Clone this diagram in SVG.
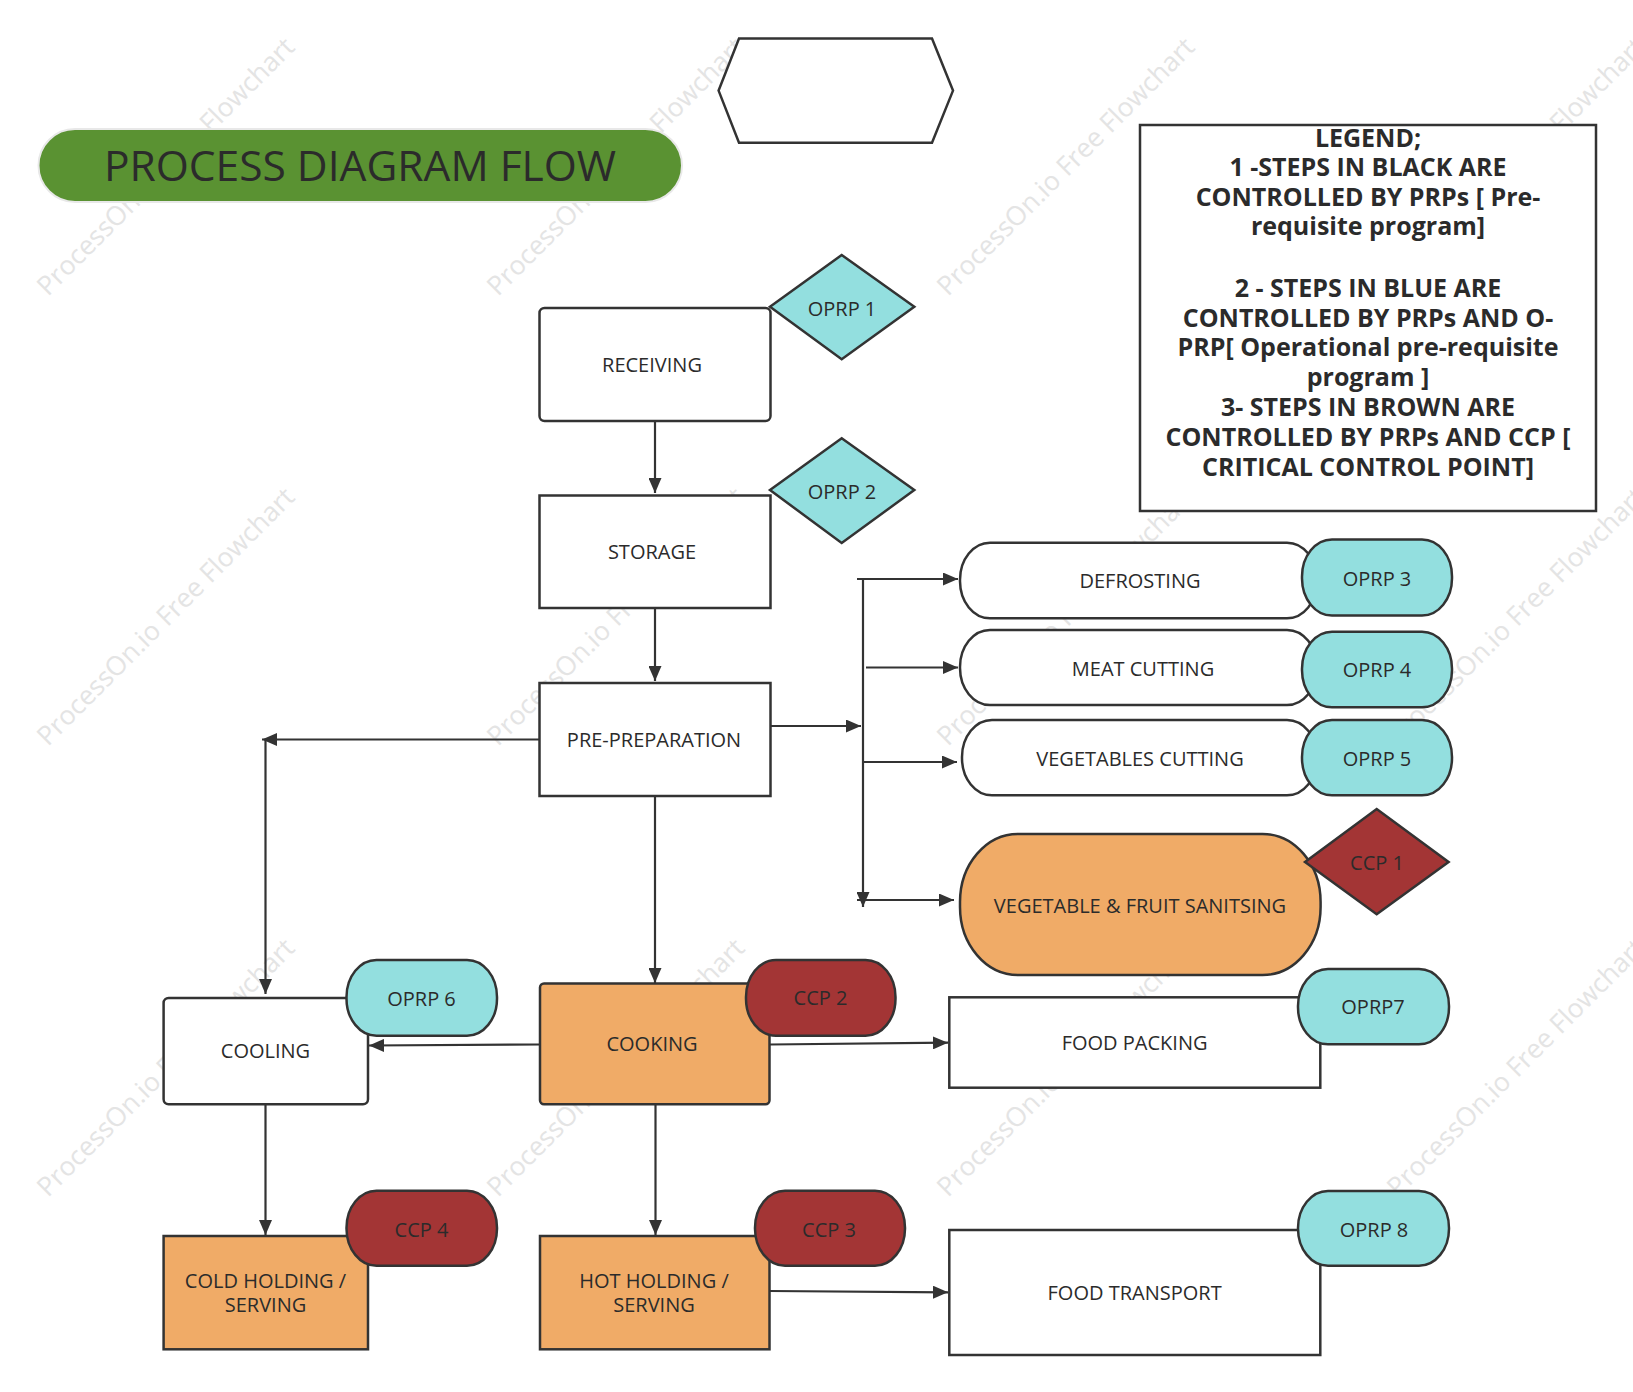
<svg xmlns="http://www.w3.org/2000/svg" width="1633" height="1392" viewBox="0 0 1633 1392">
<defs>
<marker id="arr" markerUnits="userSpaceOnUse" markerWidth="16" markerHeight="13" refX="15" refY="6.5" orient="auto"><path d="M0,0 L15,6.5 L0,13 z" fill="#333"/></marker>
<style>
.t{font-family:"Open Sans","Noto Sans","Liberation Sans",sans-serif;font-size:20px;fill:#2b2b2b;text-anchor:middle}
.b{stroke:#333;stroke-width:2.5}
.w{fill:#fff}
.c{fill:#93dfdf}
.r{fill:#a33535}
.o{fill:#f0ab67}
.ln{stroke:#333;stroke-width:2.2;fill:none}
.wm{font-family:"Open Sans","Noto Sans",sans-serif;font-size:26.5px;fill:#e4e4e4}
.lg{font-family:"Open Sans","Noto Sans","Liberation Sans",sans-serif;font-size:25px;font-weight:bold;fill:#2b2b2b;text-anchor:middle}
</style>
</defs>
<rect width="1633" height="1392" fill="#fff"/>
<g id="watermarks">
<text class="wm" transform="translate(48,297) rotate(-45)">ProcessOn.io Free Flowchart</text>
<text class="wm" transform="translate(498,297) rotate(-45)">ProcessOn.io Free Flowchart</text>
<text class="wm" transform="translate(948,297) rotate(-45)">ProcessOn.io Free Flowchart</text>
<text class="wm" transform="translate(1398,297) rotate(-45)">ProcessOn.io Free Flowchart</text>
<text class="wm" transform="translate(48,747) rotate(-45)">ProcessOn.io Free Flowchart</text>
<text class="wm" transform="translate(498,747) rotate(-45)">ProcessOn.io Free Flowchart</text>
<text class="wm" transform="translate(948,747) rotate(-45)">ProcessOn.io Free Flowchart</text>
<text class="wm" transform="translate(1398,747) rotate(-45)">ProcessOn.io Free Flowchart</text>
<text class="wm" transform="translate(48,1198) rotate(-45)">ProcessOn.io Free Flowchart</text>
<text class="wm" transform="translate(498,1198) rotate(-45)">ProcessOn.io Free Flowchart</text>
<text class="wm" transform="translate(948,1198) rotate(-45)">ProcessOn.io Free Flowchart</text>
<text class="wm" transform="translate(1398,1198) rotate(-45)">ProcessOn.io Free Flowchart</text>
</g>
<g id="title">
<rect x="38.5" y="129" width="643.5" height="73" rx="36.5" fill="#5a9232" stroke="#e8e8e8" stroke-width="2"/>
<text class="t" x="360" y="181" style="font-size:42.5px">PROCESS DIAGRAM FLOW</text>
</g>
<g id="hexagon">
<polygon class="b" fill="#fff" points="739,38.5 932,38.5 953,90.6 932,142.7 739,142.7 718.6,90.6"/>
</g>
<g id="legend">
<rect class="b" fill="#fff" x="1140" y="125" width="456" height="386"/>
<text class="lg" x="1368" y="147">LEGEND;</text>
<text class="lg" x="1368" y="176">1 -STEPS IN BLACK ARE</text>
<text class="lg" x="1368" y="206">CONTROLLED BY PRPs [ Pre-</text>
<text class="lg" x="1368" y="235">requisite program]</text>
<text class="lg" x="1368" y="297">2 - STEPS IN BLUE ARE</text>
<text class="lg" x="1368" y="327">CONTROLLED BY PRPs AND O-</text>
<text class="lg" x="1368" y="356">PRP[ Operational pre-requisite</text>
<text class="lg" x="1368" y="386">program ]</text>
<text class="lg" x="1368" y="416">3- STEPS IN BROWN ARE</text>
<text class="lg" x="1368" y="446">CONTROLLED BY PRPs AND CCP [</text>
<text class="lg" x="1368" y="476">CRITICAL CONTROL POINT]</text>
</g>
<g id="connectors">
<line class="ln" x1="655" y1="421" x2="655" y2="493" marker-end="url(#arr)"/>
<line class="ln" x1="655" y1="608" x2="655" y2="681" marker-end="url(#arr)"/>
<line class="ln" x1="770" y1="726" x2="861" y2="726" marker-end="url(#arr)"/>
<line class="ln" x1="863" y1="579" x2="863" y2="907" marker-end="url(#arr)"/>
<line class="ln" x1="857" y1="579" x2="958" y2="579" marker-end="url(#arr)"/>
<line class="ln" x1="866" y1="667.5" x2="958" y2="667.5" marker-end="url(#arr)"/>
<line class="ln" x1="863" y1="762" x2="957" y2="762" marker-end="url(#arr)"/>
<line class="ln" x1="857" y1="900" x2="954" y2="900" marker-end="url(#arr)"/>
<line class="ln" x1="539" y1="739.5" x2="262" y2="739.5" marker-end="url(#arr)"/>
<line class="ln" x1="265.5" y1="739.5" x2="265.5" y2="994" marker-end="url(#arr)"/>
<line class="ln" x1="655" y1="796" x2="655" y2="983" marker-end="url(#arr)"/>
<line class="ln" x1="540" y1="1044.5" x2="369" y2="1045.5" marker-end="url(#arr)"/>
<line class="ln" x1="770" y1="1044.5" x2="948" y2="1042.7" marker-end="url(#arr)"/>
<line class="ln" x1="265.5" y1="1104.5" x2="265.5" y2="1235" marker-end="url(#arr)"/>
<line class="ln" x1="655.5" y1="1104.5" x2="655.5" y2="1235" marker-end="url(#arr)"/>
<line class="ln" x1="770" y1="1291" x2="948" y2="1292.3" marker-end="url(#arr)"/>
</g>
<g id="receiving">
<rect class="b w" x="539.5" y="308" width="231" height="113" rx="5"/>
<text class="t" x="652" y="372">RECEIVING</text>
</g>
<g id="oprp1">
<polygon class="b c" points="770,306.7 841.7,255 914.3,306.7 841.7,359.3"/>
<text class="t" x="842" y="316">OPRP 1</text>
</g>
<g id="storage">
<rect class="b w" x="539.5" y="495.5" width="231" height="112.5"/>
<text class="t" x="652" y="559">STORAGE</text>
</g>
<g id="oprp2">
<polygon class="b c" points="770,490 841.7,438.3 914.3,490 841.7,543"/>
<text class="t" x="842" y="499">OPRP 2</text>
</g>
<g id="prepreparation">
<rect class="b w" x="539.5" y="683" width="231" height="113"/>
<text class="t" x="654" y="747">PRE-PREPARATION</text>
</g>
<g id="defrosting">
<rect class="b w" x="960" y="542.7" width="357" height="75.6" rx="30" ry="37"/>
<text class="t" x="1140" y="588">DEFROSTING</text>
</g>
<g id="oprp3">
<rect class="b c" x="1302" y="539.5" width="150" height="76" rx="30" ry="37"/>
<text class="t" x="1377" y="586">OPRP 3</text>
</g>
<g id="meatcutting">
<rect class="b w" x="960" y="630" width="357" height="75" rx="30" ry="37"/>
<text class="t" x="1143" y="676">MEAT CUTTING</text>
</g>
<g id="oprp4">
<rect class="b c" x="1302" y="631.7" width="150" height="75.6" rx="30" ry="37"/>
<text class="t" x="1377" y="677">OPRP 4</text>
</g>
<g id="vegcutting">
<rect class="b w" x="962" y="720" width="355" height="75.3" rx="30" ry="37"/>
<text class="t" x="1140" y="766">VEGETABLES CUTTING</text>
</g>
<g id="oprp5">
<rect class="b c" x="1302" y="720" width="150" height="75.3" rx="30" ry="37"/>
<text class="t" x="1377" y="766">OPRP 5</text>
</g>
<g id="sanitising">
<rect class="b o" x="960" y="834" width="360.6" height="141" rx="58" ry="68"/>
<text class="t" x="1140" y="913">VEGETABLE &amp; FRUIT SANITSING</text>
</g>
<g id="ccp1">
<polygon class="b r" points="1305,862 1376.7,809 1448.6,862 1376.7,914.3"/>
<text class="t" x="1377" y="870">CCP 1</text>
</g>
<g id="cooling">
<rect class="b w" x="163.6" y="998" width="204.4" height="106.3" rx="5"/>
<text class="t" x="265.5" y="1058">COOLING</text>
</g>
<g id="oprp6">
<rect class="b c" x="346.5" y="960" width="150.5" height="75.7" rx="30" ry="37"/>
<text class="t" x="421.5" y="1006">OPRP 6</text>
</g>
<g id="cooking">
<rect class="b o" x="540" y="983.5" width="229.5" height="120.8" rx="4"/>
<text class="t" x="652" y="1051">COOKING</text>
</g>
<g id="ccp2">
<rect class="b r" x="746" y="960" width="149.5" height="75.7" rx="30" ry="37"/>
<text class="t" x="820.5" y="1005">CCP 2</text>
</g>
<g id="foodpacking">
<rect class="b w" x="949.3" y="997.3" width="371" height="90.4"/>
<text class="t" x="1134.6" y="1050">FOOD PACKING</text>
</g>
<g id="oprp7">
<rect class="b c" x="1298" y="969" width="151" height="75.3" rx="30" ry="37"/>
<text class="t" x="1373" y="1014">OPRP7</text>
</g>
<g id="coldholding">
<rect class="b o" x="163.6" y="1236" width="204.4" height="113.3"/>
<text class="t" x="265.5" y="1288">COLD HOLDING /</text>
<text class="t" x="265.5" y="1312">SERVING</text>
</g>
<g id="ccp4">
<rect class="b r" x="346.5" y="1190.7" width="150.5" height="75" rx="30" ry="37"/>
<text class="t" x="421.5" y="1237">CCP 4</text>
</g>
<g id="hotholding">
<rect class="b o" x="540" y="1236" width="229.5" height="113.3"/>
<text class="t" x="654" y="1288">HOT HOLDING /</text>
<text class="t" x="654" y="1312">SERVING</text>
</g>
<g id="ccp3">
<rect class="b r" x="755" y="1190.7" width="150" height="75" rx="30" ry="37"/>
<text class="t" x="829" y="1237">CCP 3</text>
</g>
<g id="foodtransport">
<rect class="b w" x="949.3" y="1230" width="371" height="125"/>
<text class="t" x="1134.6" y="1300">FOOD TRANSPORT</text>
</g>
<g id="oprp8">
<rect class="b c" x="1298" y="1191" width="151" height="74.7" rx="30" ry="37"/>
<text class="t" x="1374" y="1237">OPRP 8</text>
</g>
</svg>
